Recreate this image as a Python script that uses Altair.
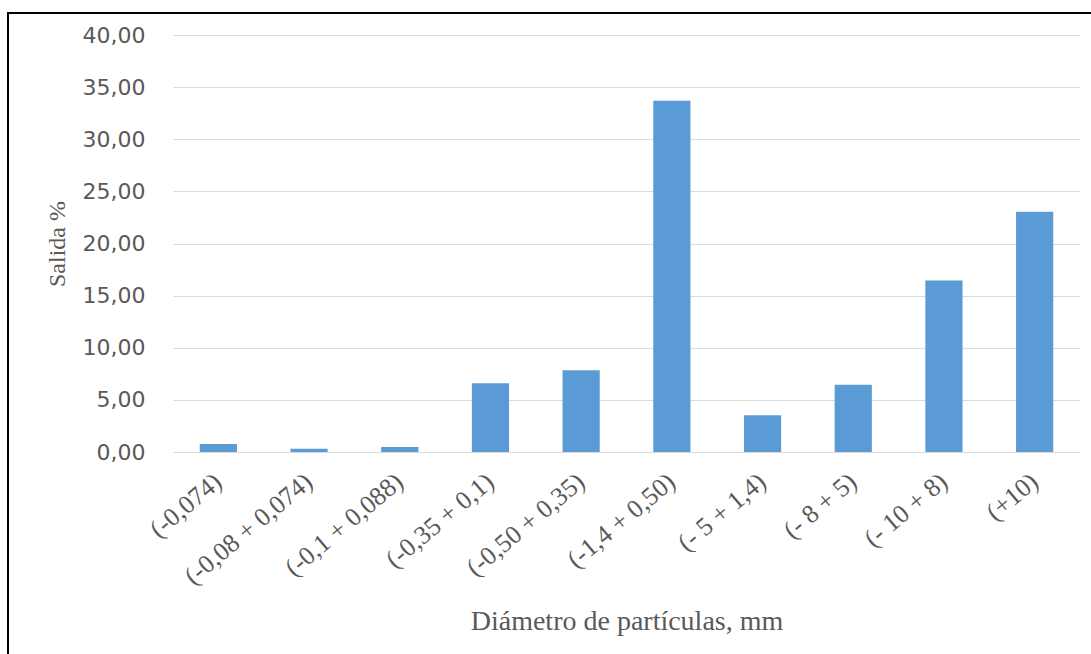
import altair as alt
import pandas as pd

# Particle size fractions (mm) and the share of material in each (%)
fracciones = [
    "(-0,074)", "(-0,08 + 0,074)", "(-0,1 +  0,088)", "(-0,35 + 0,1)",
    "(-0,50 + 0,35)", "(-1,4 + 0,50)", "(- 5 + 1,4)", "(- 8 + 5)",
    "(- 10 + 8)", "(+10)",
]
salida = [0.77, 0.30, 0.48, 6.60, 7.85, 33.70, 3.52, 6.45, 16.45, 23.05]
y_ticks = [0, 5, 10, 15, 20, 25, 30, 35, 40]

df = pd.DataFrame({"fraccion": fracciones, "salida": salida})

PLOT_W, PLOT_H = 907, 417
LEFT, TOP = 173, 35
GRID = "#D9D9D9"
TEXT = "#595959"

bars = alt.Chart(df).mark_bar(color="#5B9BD5").encode(
    x=alt.X(
        "fraccion:N",
        sort=fracciones,
        scale=alt.Scale(paddingInner=0.59, paddingOuter=0.295),
        axis=alt.Axis(
            title="Diámetro de partículas, mm",
            titleFont="Liberation Serif",
            titleFontSize=28,
            titleFontWeight="normal",
            titleColor=TEXT,
            titleBaseline="alphabetic",
            titleY=177,
            labelFont="Liberation Serif",
            labelFontSize=26,
            labelColor=TEXT,
            labelAngle=-40,
            labelAlign="right",
            labelBaseline="middle",
            labelPadding=26,
            ticks=False,
            tickSize=0,
            domainColor=GRID,
            domainWidth=1,
            grid=False,
        ),
    ),
    y=alt.Y(
        "salida:Q",
        scale=alt.Scale(domain=[0, 40], nice=False),
        axis=alt.Axis(
            title="Salida %",
            titleFont="Liberation Serif",
            titleFontSize=24,
            titleFontWeight="normal",
            titleColor=TEXT,
            titleBaseline="alphabetic",
            titleX=-109,
            values=y_ticks,
            labelExpr="replace(format(datum.value, '.2f'), '.', ',')",
            labelFont="DejaVu Sans",
            labelFontSize=22,
            labelColor=TEXT,
            labelPadding=28,
            ticks=False,
            tickSize=0,
            domain=False,
            grid=True,
            gridColor=GRID,
            gridWidth=1,
        ),
    ),
)

# Outer frame around the whole figure
frame = alt.Chart(pd.DataFrame({"f": [0]})).mark_rect(
    filled=False, stroke="black", strokeWidth=2
).encode(
    x=alt.value(8 - LEFT),
    x2=alt.value(1100 - LEFT),
    y=alt.value(13 - TOP),
    y2=alt.value(700 - TOP),
)

chart = alt.layer(bars, frame).properties(
    width=PLOT_W,
    height=PLOT_H,
    padding={"left": LEFT, "top": TOP, "right": 1091 - LEFT - PLOT_W, "bottom": 654 - TOP - PLOT_H},
    autosize=alt.AutoSizeParams(type="none"),
    background="white",
).configure_view(stroke=None)

chart.save("out.html", embed_options={"renderer": "svg", "actions": False})
